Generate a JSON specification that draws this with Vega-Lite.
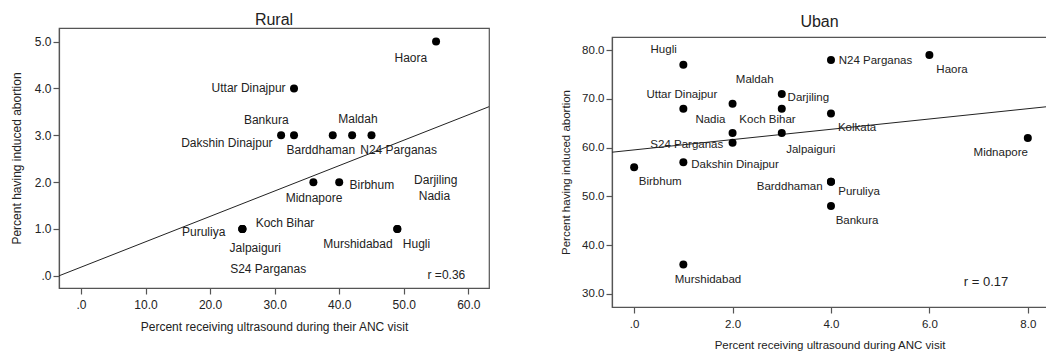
{
  "$schema": "https://vega.github.io/schema/vega-lite/v6.json",
  "background": "white",
  "padding": {"left": 9, "top": 10, "right": 0, "bottom": 0},
  "config": {
    "font": "Liberation Sans",
    "view": {"stroke": "#555", "strokeWidth": 1.2},
    "axis": {"grid": false, "domainColor": "#555", "domainWidth": 1.2, "tickColor": "#555", "tickWidth": 1.2, "labelColor": "#222", "titleColor": "#222", "labelFont": "Liberation Sans", "titleFont": "Liberation Sans", "labelFontSize": 12, "titleFontSize": 12, "titleFontWeight": "normal", "tickSize": 6, "labelPadding": 2},
    "axisX": {"labelPadding": 5.5},
    "title": {"fontSize": 16, "fontWeight": "normal", "font": "Liberation Sans", "color": "#222"},
    "concat": {"spacing": 70}
  },
  "hconcat": [
    {"spacing": 0, "vconcat": [
    {"width": 10, "height": 1, "data": {"values": []}, "mark": "point", "view": {"stroke": null}},
    {
      "title": {"text": "Rural", "offset": 0.1},
      "width": 430,
      "height": 260,
      "data": {"values": [
        {"district": "Haora", "ultrasound": 55, "abortion": 5, "labelX": 51.1, "labelY": 4.66},
        {"district": "Uttar Dinajpur", "ultrasound": 33, "abortion": 4, "labelX": 25.96, "labelY": 4.0},
        {"district": "Bankura", "ultrasound": 33, "abortion": 3, "labelX": 28.7, "labelY": 3.33},
        {"district": "Maldah", "ultrasound": 42, "abortion": 3, "labelX": 42.9, "labelY": 3.35},
        {"district": "Dakshin Dinajpur", "ultrasound": 31, "abortion": 3, "labelX": 22.6, "labelY": 2.83},
        {"district": "Barddhaman", "ultrasound": 39, "abortion": 3, "labelX": 37.15, "labelY": 2.69},
        {"district": "N24 Parganas", "ultrasound": 45, "abortion": 3, "labelX": 49.2, "labelY": 2.68},
        {"district": "Midnapore", "ultrasound": 36, "abortion": 2, "labelX": 36.1, "labelY": 1.67},
        {"district": "Birbhum", "ultrasound": 40, "abortion": 2, "labelX": 45.05, "labelY": 1.93},
        {"district": "Darjiling", "ultrasound": null, "abortion": null, "labelX": 54.95, "labelY": 2.04},
        {"district": "Nadia", "ultrasound": null, "abortion": null, "labelX": 54.75, "labelY": 1.71},
        {"district": "Koch Bihar", "ultrasound": 25, "abortion": 1, "labelX": 31.6, "labelY": 1.12},
        {"district": "Puruliya", "ultrasound": 25, "abortion": 1, "labelX": 19.0, "labelY": 0.93},
        {"district": "Jalpaiguri", "ultrasound": 25, "abortion": 1, "labelX": 27.0, "labelY": 0.59},
        {"district": "S24 Parganas", "ultrasound": null, "abortion": null, "labelX": 29.0, "labelY": 0.14},
        {"district": "Murshidabad", "ultrasound": 49, "abortion": 1, "labelX": 42.9, "labelY": 0.68},
        {"district": "Hugli", "ultrasound": 49, "abortion": 1, "labelX": 51.97, "labelY": 0.68}
      ]},
      "layer": [
        {
          "data": {"values": [{"fx": -3.4, "fy": 0.0}, {"fx": 63.2, "fy": 3.61}]},
          "mark": {"type": "line", "color": "#222", "strokeWidth": 1, "clip": true},
          "encoding": {
            "x": {"field": "fx", "type": "quantitative", "scale": {"domain": [-3.4, 63.2], "nice": false, "zero": false}, "axis": {"title": "Percent receiving ultrasound during their ANC visit", "values": [0, 10, 20, 30, 40, 50, 60], "labelExpr": "datum.value == 0 ? '.0' : format(datum.value, '.1f')", "titlePadding": 10.5}},
            "y": {"field": "fy", "type": "quantitative", "scale": {"domain": [-0.26, 5.29], "nice": false, "zero": false}, "axis": {"title": "Percent  having induced abortion", "values": [0, 1, 2, 3, 4, 5], "labelExpr": "datum.value == 0 ? '.0' : format(datum.value, '.1f')", "titlePadding": 11}}
          }
        },
        {
          "mark": {"type": "circle", "size": 64, "color": "black", "opacity": 1},
          "encoding": {
            "x": {"field": "ultrasound", "type": "quantitative", "title": "Percent receiving ultrasound during their ANC visit"},
            "y": {"field": "abortion", "type": "quantitative", "title": "Percent  having induced abortion"}
          }
        },
        {
          "mark": {"type": "text", "fontSize": 12, "color": "#222", "align": "center", "baseline": "middle"},
          "encoding": {
            "x": {"field": "labelX", "type": "quantitative", "title": "Percent receiving ultrasound during their ANC visit"},
            "y": {"field": "labelY", "type": "quantitative", "title": "Percent  having induced abortion"},
            "text": {"field": "district"}
          }
        },
        {
          "data": {"values": [{"note": "r =0.36", "nx": 56.6, "ny": 0.015}]},
          "mark": {"type": "text", "fontSize": 12, "color": "#222", "align": "center", "baseline": "middle"},
          "encoding": {
            "x": {"field": "nx", "type": "quantitative", "title": "Percent receiving ultrasound during their ANC visit"},
            "y": {"field": "ny", "type": "quantitative", "title": "Percent  having induced abortion"},
            "text": {"field": "note"}
          }
        }
      ]
    }
    ]},
    {"spacing": 0, "vconcat": [
    {"width": 10, "height": 3, "data": {"values": []}, "mark": "point", "view": {"stroke": null}},
    {
      "title": {"text": "Uban", "offset": 7, "dx": -10},
      "width": 435,
      "height": 270,
      "data": {"values": [
        {"district": "Hugli", "ultrasound": 1, "abortion": 77, "labelX": 0.6, "labelY": 80.0},
        {"district": "N24 Parganas", "ultrasound": 4, "abortion": 78, "labelX": 4.905, "labelY": 77.74},
        {"district": "Haora", "ultrasound": 6, "abortion": 79, "labelX": 6.46, "labelY": 75.83},
        {"district": "Maldah", "ultrasound": 2, "abortion": 69, "labelX": 2.45, "labelY": 73.78},
        {"district": "Uttar Dinajpur", "ultrasound": 1, "abortion": 68, "labelX": 0.97, "labelY": 70.9},
        {"district": "Darjiling", "ultrasound": 3, "abortion": 71, "labelX": 3.54, "labelY": 70.2},
        {"district": "Nadia", "ultrasound": 2, "abortion": 63, "labelX": 1.55, "labelY": 65.77},
        {"district": "Koch Bihar", "ultrasound": 3, "abortion": 68, "labelX": 2.71, "labelY": 65.63},
        {"district": "Kolkata", "ultrasound": 4, "abortion": 67, "labelX": 4.53, "labelY": 63.98},
        {"district": "S24 Parganas", "ultrasound": 2, "abortion": 61, "labelX": 1.07, "labelY": 60.64},
        {"district": "Jalpaiguri", "ultrasound": 3, "abortion": 63, "labelX": 3.59, "labelY": 59.47},
        {"district": "Midnapore", "ultrasound": 8, "abortion": 62, "labelX": 7.45, "labelY": 58.91},
        {"district": "Dakshin Dinajpur", "ultrasound": 1, "abortion": 57, "labelX": 2.05, "labelY": 56.45},
        {"district": "Birbhum", "ultrasound": 0, "abortion": 56, "labelX": 0.53, "labelY": 52.9},
        {"district": "Barddhaman", "ultrasound": 4, "abortion": 53, "labelX": 3.16, "labelY": 51.93},
        {"district": "Puruliya", "ultrasound": 4, "abortion": 53, "labelX": 4.57, "labelY": 50.84},
        {"district": "Bankura", "ultrasound": 4, "abortion": 48, "labelX": 4.53, "labelY": 44.89},
        {"district": "Murshidabad", "ultrasound": 1, "abortion": 36, "labelX": 1.5, "labelY": 32.91}
      ]},
      "layer": [
        {
          "data": {"values": [{"fx": -0.45, "fy": 59.06}, {"fx": 8.39, "fy": 68.4}]},
          "mark": {"type": "line", "color": "#222", "strokeWidth": 1, "clip": true},
          "encoding": {
            "x": {"field": "fx", "type": "quantitative", "scale": {"domain": [-0.45, 8.39], "nice": false, "zero": false}, "axis": {"title": "Percent receiving ultrasound during ANC visit", "values": [0, 2, 4, 6, 8], "labelExpr": "datum.value == 0 ? '.0' : format(datum.value, '.1f')", "titlePadding": 9.5, "labelFontSize": 11.5, "titleFontSize": 11.5}},
            "y": {"field": "fy", "type": "quantitative", "scale": {"domain": [27.3, 82.7], "nice": false, "zero": false}, "axis": {"title": "Percent having induced abortion", "values": [30, 40, 50, 60, 70, 80], "labelExpr": "format(datum.value, '.1f')", "titlePadding": 10, "labelFontSize": 11.5, "titleFontSize": 11.5}}
          }
        },
        {
          "mark": {"type": "circle", "size": 64, "color": "black", "opacity": 1},
          "encoding": {
            "x": {"field": "ultrasound", "type": "quantitative", "title": "Percent receiving ultrasound during ANC visit"},
            "y": {"field": "abortion", "type": "quantitative", "title": "Percent having induced abortion"}
          }
        },
        {
          "mark": {"type": "text", "fontSize": 11.5, "color": "#222", "align": "center", "baseline": "middle"},
          "encoding": {
            "x": {"field": "labelX", "type": "quantitative", "title": "Percent receiving ultrasound during ANC visit"},
            "y": {"field": "labelY", "type": "quantitative", "title": "Percent having induced abortion"},
            "text": {"field": "district"}
          }
        },
        {
          "data": {"values": [{"note": "r = 0.17", "nx": 7.15, "ny": 32.36}]},
          "mark": {"type": "text", "fontSize": 13, "color": "#222", "align": "center", "baseline": "middle"},
          "encoding": {
            "x": {"field": "nx", "type": "quantitative", "title": "Percent receiving ultrasound during ANC visit"},
            "y": {"field": "ny", "type": "quantitative", "title": "Percent having induced abortion"},
            "text": {"field": "note"}
          }
        }
      ]
    }
    ]}
  ]
}
